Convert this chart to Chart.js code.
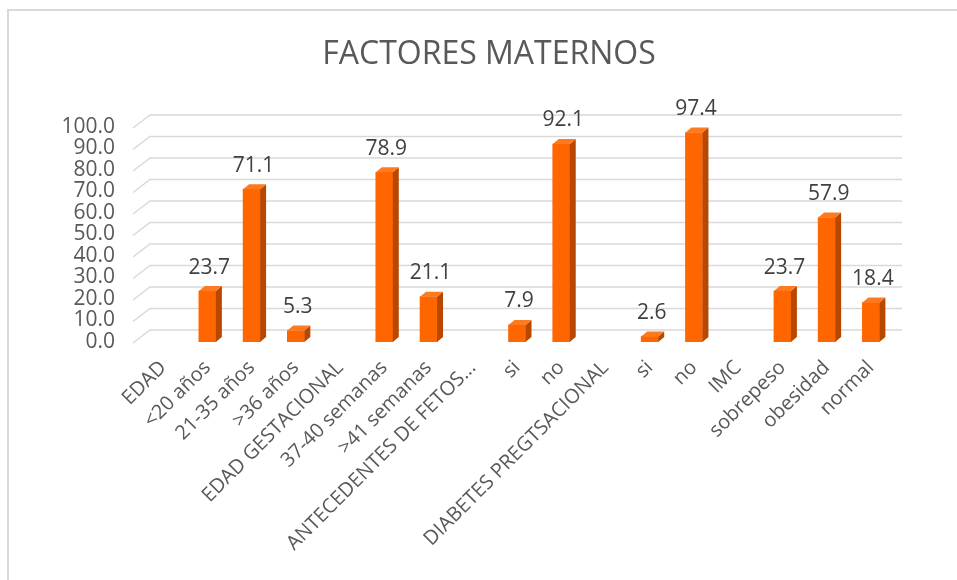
<!DOCTYPE html>
<html>
<head>
<meta charset="utf-8">
<script src="https://cdn.jsdelivr.net/npm/chart.js@4.4.1/dist/chart.umd.min.js"></script>
<style>
  body{margin:0;background:#fff;}
  #wrap{position:relative;width:957px;height:580px;overflow:hidden;}
</style>
</head>
<body>
<div id="wrap"><canvas id="grafico" width="957" height="580"></canvas></div>
<script>
const categorias = ["EDAD","<20 años","21-35 años",">36 años","EDAD GESTACIONAL","37-40 semanas",">41 semanas","ANTECEDENTES DE FETOS...","si","no","DIABETES PREGTSACIONAL","si","no","IMC","sobrepeso","obesidad","normal"];
const porcentajes = [null,23.7,71.1,5.3,null,78.9,21.1,null,7.9,92.1,null,2.6,97.4,null,23.7,57.9,18.4];
const titulo = "FACTORES MATERNOS";

const fonte = "'Open Sans', sans-serif";
const prof = {dx:6, dy:5};

// marco, titulo, rejilla 3D, caras laterales y etiquetas
const efecto3d = {
  id:"efecto3d",
  beforeDraw(chart){
    const c = chart.ctx;
    c.save();
    c.strokeStyle="#d9d9d9"; c.lineWidth=2;
    c.beginPath(); c.moveTo(8,580); c.lineTo(8,10); c.lineTo(957,10); c.stroke();
    c.fillStyle="#595959";
    c.font="32px "+fonte;
    c.textAlign="center"; c.textBaseline="middle";
    c.fillText(titulo, 489, 55);
    c.restore();
  },
  beforeDatasetsDraw(chart){
    const c = chart.ctx, y = chart.scales.y, a = chart.chartArea;
    c.save();
    c.strokeStyle="#d9d9d9"; c.lineWidth=1.5;
    y.ticks.forEach(t=>{
      const py = y.getPixelForValue(t.value);
      c.beginPath();
      c.moveTo(a.left-8, py+1);
      c.lineTo(a.left+9, py-12);
      c.lineTo(a.right+9, py-12);
      c.stroke();
    });
    c.restore();
  },
  afterDatasetsDraw(chart){
    const c = chart.ctx;
    const meta = chart.getDatasetMeta(0);
    c.save();
    meta.data.forEach((b,i)=>{
      if(porcentajes[i]==null) return;
      const {x,y,width,base} = b.getProps(["x","y","width","base"],true);
      const l = x-width/2, r = x+width/2;
      // lado
      c.fillStyle="#b84800";
      c.beginPath();
      c.moveTo(r,y); c.lineTo(r+prof.dx,y-prof.dy); c.lineTo(r+prof.dx,base-prof.dy); c.lineTo(r,base);
      c.closePath(); c.fill();
      // tapa
      c.fillStyle="#ff7a1f";
      c.beginPath();
      c.moveTo(l,y); c.lineTo(l+prof.dx,y-prof.dy); c.lineTo(r+prof.dx,y-prof.dy); c.lineTo(r,y);
      c.closePath(); c.fill();
      // valor
      c.fillStyle="#404040";
      c.font="21px "+fonte;
      c.textAlign="center"; c.textBaseline="bottom";
      c.fillText(porcentajes[i].toFixed(1), x+2, y-13);
    });
    c.restore();
  }
};

new Chart(document.getElementById("grafico"),{
  type:"bar",
  data:{
    labels:categorias,
    datasets:[{data:porcentajes, backgroundColor:"#ff6600", barThickness:17, borderWidth:0}]
  },
  options:{
    responsive:false,
    animation:false,
    events:[],
    layout:{padding:{right:64, top:127}},
    plugins:{
      legend:{display:false},
      tooltip:{enabled:false},
      title:{display:false}
    },
    scales:{
      x:{
        grid:{display:false, drawTicks:false},
        border:{display:false},
        ticks:{color:"#595959", font:{family:fonte,size:20}, minRotation:45, maxRotation:45, autoSkip:false, padding:14},
        afterFit(s){ s.height = 238; }
      },
      y:{
        min:0, max:100,
        grid:{display:false, drawTicks:false},
        border:{display:false},
        ticks:{stepSize:10, autoSkip:false, color:"#595959", font:{family:fonte,size:21}, padding:26, callback:v=>v.toFixed(1)},
        afterFit(s){ s.width = 141; }
      }
    }
  },
  plugins:[efecto3d]
});
</script>
</body>
</html>
